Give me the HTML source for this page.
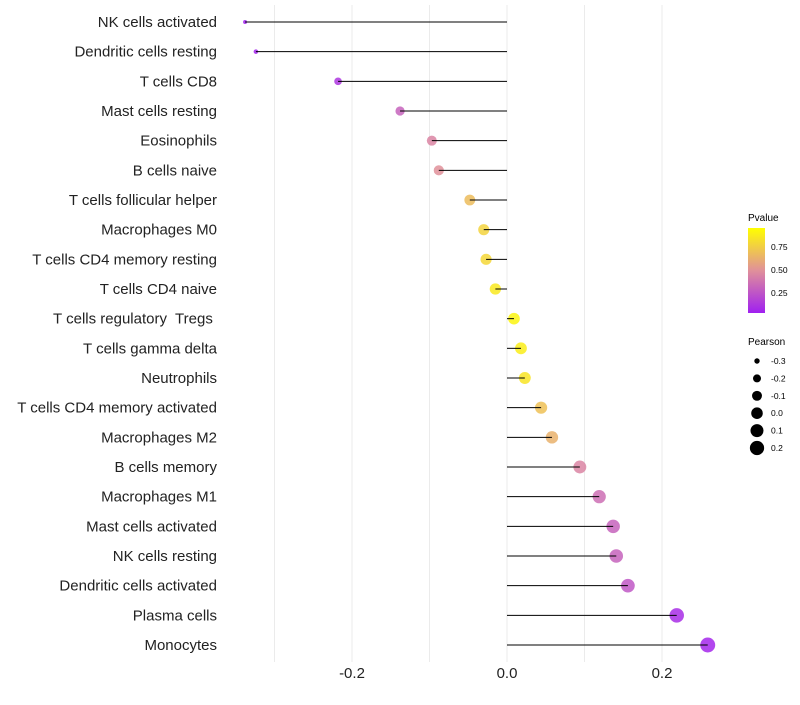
<!DOCTYPE html>
<html><head><meta charset="utf-8"><style>
body{margin:0;background:#fff;font-family:"Liberation Sans",sans-serif}
</style></head><body>
<svg id="chart" width="800" height="700" xmlns="http://www.w3.org/2000/svg">
<defs><linearGradient id="pg" x1="0" y1="1" x2="0" y2="0">
<stop offset="0" stop-color="#A020F0"/><stop offset="0.5" stop-color="#E0909A"/><stop offset="1" stop-color="#FFFF00"/></linearGradient></defs>
<g id="grid"></g><g id="marks"></g><g id="labels"></g>
<g>
<text x="748" y="221" font-size="10">Pvalue</text>
<rect x="748" y="228" width="17" height="85" fill="url(#pg)"/>
<text x="771" y="250" font-size="8.5">0.75</text>
<text x="771" y="273" font-size="8.5">0.50</text>
<text x="771" y="296" font-size="8.5">0.25</text>
</g>
<g id="sizeleg">
<text x="748" y="345" font-size="10">Pearson</text>
</g>
</svg>
<script>
const categories=["NK cells activated","Dendritic cells resting","T cells CD8","Mast cells resting","Eosinophils","B cells naive","T cells follicular helper","Macrophages M0","T cells CD4 memory resting","T cells CD4 naive","T cells regulatory  Tregs ","T cells gamma delta","Neutrophils","T cells CD4 memory activated","Macrophages M2","B cells memory","Macrophages M1","Mast cells activated","NK cells resting","Dendritic cells activated","Plasma cells","Monocytes"];
const pearson=[-0.338,-0.324,-0.218,-0.138,-0.097,-0.088,-0.048,-0.030,-0.027,-0.015,0.009,0.018,0.023,0.044,0.058,0.094,0.119,0.137,0.141,0.156,0.219,0.259];
const pvalue=[0.01,0.02,0.1,0.3,0.45,0.5,0.7,0.8,0.82,0.9,0.95,0.92,0.88,0.72,0.65,0.45,0.35,0.3,0.3,0.25,0.06,0.03];
const xTicks=[-0.2,0.0,0.2];
const xTickLabels=["-0.2","0.0","0.2"];
const gridVals=[-0.3,-0.2,-0.1,0,0.1,0.2];
const sizeLegend=[-0.3,-0.2,-0.1,0.0,0.1,0.2];
const sizeLegendLabels=["-0.3","-0.2","-0.1","0.0","0.1","0.2"];
const NS="http://www.w3.org/2000/svg";
const X=v=>507+v*775;
const Y=i=>22+i*(623/(categories.length-1));
const R=v=>Math.sqrt(Math.max(3,4+87*(v+0.338)));
function lerp(a,b,t){return a.map((x,k)=>Math.round(x+(b[k]-x)*t));}
function col(p){const s=[[160,32,240],[224,144,154],[255,255,0]];
 const c=p<0.5?lerp(s[0],s[1],p/0.5):lerp(s[1],s[2],(p-0.5)/0.5);return `rgb(${c.join(',')})`;}
function mk(t,a,parent){const e=document.createElementNS(NS,t);for(const k in a)e.setAttribute(k,a[k]);parent.appendChild(e);return e;}
const grid=document.getElementById('grid'),marks=document.getElementById('marks'),labels=document.getElementById('labels');
gridVals.forEach(v=>{const l=mk('line',{x1:X(v),x2:X(v),y1:5,y2:662,stroke:'#ebebeb','stroke-width':1},grid);

});
xTicks.forEach((v,i)=>{const t=mk('text',{x:X(v),y:678,'font-size':15,'text-anchor':'middle',fill:'#222'},labels);t.textContent=xTickLabels[i];

});
categories.forEach((c,i)=>{
 const t=mk('text',{x:217,y:Y(i)+5,'font-size':15,'text-anchor':'end',fill:'#222',style:'white-space:pre'},labels);t.textContent=c;
 
 
 const d=mk('circle',{cx:X(pearson[i]),cy:Y(i),r:R(pearson[i]),fill:col(pvalue[i]),'fill-opacity':0.85},marks);
 
 
 const l=mk('line',{x1:X(0),x2:X(pearson[i]),y1:Y(i),y2:Y(i),stroke:'#000','stroke-width':1},marks);
 
 
});
const sl=document.getElementById('sizeleg');
sizeLegend.forEach((v,i)=>{const y=361+i*17.4;
 const c=mk('circle',{cx:757,cy:y,r:R(v),fill:'#000'},sl);
 
 
 const t=mk('text',{x:771,y:y+3,'font-size':8.5},sl);t.textContent=sizeLegendLabels[i];
 
 });
</script>
</body></html>
